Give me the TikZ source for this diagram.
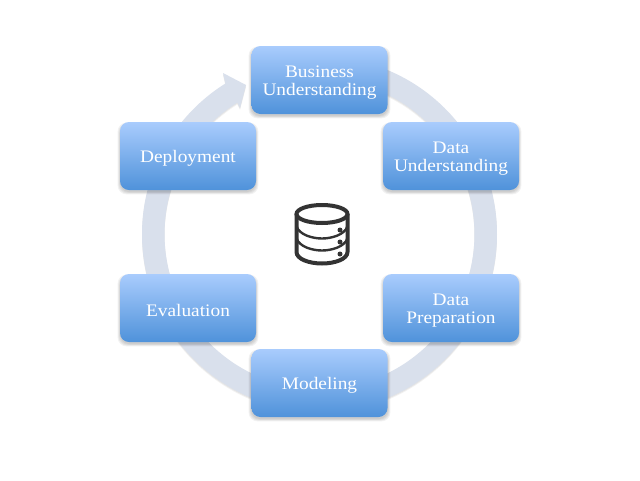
\documentclass[tikz,border=0pt]{standalone}
\usepackage{fontspec}
\setmainfont{Liberation Serif}
\newfontfamily\boxfont[FakeStretch=1.1]{Liberation Serif}
\definecolor{boxtop}{HTML}{A9CCFD}
\definecolor{boxbot}{HTML}{4F92DA}
\definecolor{ringc}{HTML}{D9E0EC}
\definecolor{iconc}{HTML}{333333}
\tikzset{
  boxnode/.style={rounded corners=9pt,minimum width=136pt,minimum height=68pt,inner sep=0pt,
    top color=boxtop,bottom color=boxbot,draw=none},
  boxlabel/.style={inner sep=0pt,text=white,align=center,
    font=\boxfont\fontsize{17.6}{18.6}\selectfont},
  iconline/.style={draw=iconc,line width=4pt},
  iconthin/.style={draw=iconc,line width=2.4pt},
  icondot/.style={fill=iconc,draw=none}
}
\newcommand{\boxshadow}[4]{%
  \foreach \g in {0,1,2,3}{
    \fill[black,opacity=0.05,rounded corners=9pt]
      ({#1-\g*0.8},{#2+3-\g*0.8}) rectangle ({#3+\g*0.8},{#4+2+\g*0.8});
  }}
\newcommand{\ringpath}[2]{%
  plot[smooth,domain=-80:238,samples=120] ({#1+177.5*cos(\x)},{#2+177.5*sin(\x)})
  -- ({#1-96.5},{#2-161}) -- ({#1-73.5},{#2-149}) -- ({#1-79.5},{#2-126}) -- ({#1-82.1},{#2-131.4})
  -- plot[smooth,domain=238:-80,samples=120] ({#1+155*cos(\x)},{#2+155*sin(\x)}) -- cycle}
\begin{document}
\begin{tikzpicture}[x=1pt,y=-1pt]
\useasboundingbox (0,0) rectangle (640,480);
\fill[white] (0,0) rectangle (640,480);
% ring arrow
\fill[black,opacity=0.05] \ringpath{319.5}{236};
\fill[black,opacity=0.05] \ringpath{319.5}{235};
\fill[ringc] \ringpath{319.5}{234};
% shadows
\boxshadow{251}{46}{388}{114}
\boxshadow{383}{122}{519}{190}
\boxshadow{383}{274}{519}{342}
\boxshadow{251}{349}{388}{417}
\boxshadow{120}{274}{256}{342}
\boxshadow{120}{122}{256}{190}
% boxes
\node[boxnode] (bu) at (319.5,80) {};
\node[boxnode] (du) at (451,156) {};
\node[boxnode] (dp) at (451,308) {};
\node[boxnode] (mo) at (319.5,383) {};
\node[boxnode] (ev) at (188,308) {};
\node[boxnode] (de) at (188,156) {};
\node[boxlabel] (bul) at ([yshift=-2.5pt]bu.center) {Business\\Understanding};
\node[boxlabel] (dul) at ([yshift=-2.5pt]du.center) {Data\\Understanding};
\node[boxlabel] (dpl) at ([yshift=-2.5pt]dp.center) {Data\\Preparation};
\node[boxlabel] (mol) at ([yshift=-2.5pt]mo.center) {Modeling};
\node[boxlabel] (evl) at ([yshift=-2.5pt]ev.center) {Evaluation};
\node[boxlabel] (del) at ([yshift=-2.5pt]de.center) {Deployment};
% database icon
\draw[iconline] (322,214) ellipse [x radius=25.5,y radius=9];
\draw[iconline] (296.5,214) -- (296.5,252) .. controls (296.5,259) and (309,263.5) .. (322,263.5)
  .. controls (335,263.5) and (347.5,259) .. (347.5,252) -- (347.5,214);
\draw[iconthin] (296.5,226) .. controls (299,235) and (313,238.5) .. (322,238.5) .. controls (331,238.5) and (345,235) .. (347.5,226);
\draw[iconthin] (296.5,238) .. controls (299,247) and (313,250.5) .. (322,250.5) .. controls (331,250.5) and (345,247) .. (347.5,238);
\fill[icondot] (340,230) circle (2.5);
\fill[icondot] (340,242) circle (2.5);
\fill[icondot] (340,254) circle (2.5);
\end{tikzpicture}
\end{document}
